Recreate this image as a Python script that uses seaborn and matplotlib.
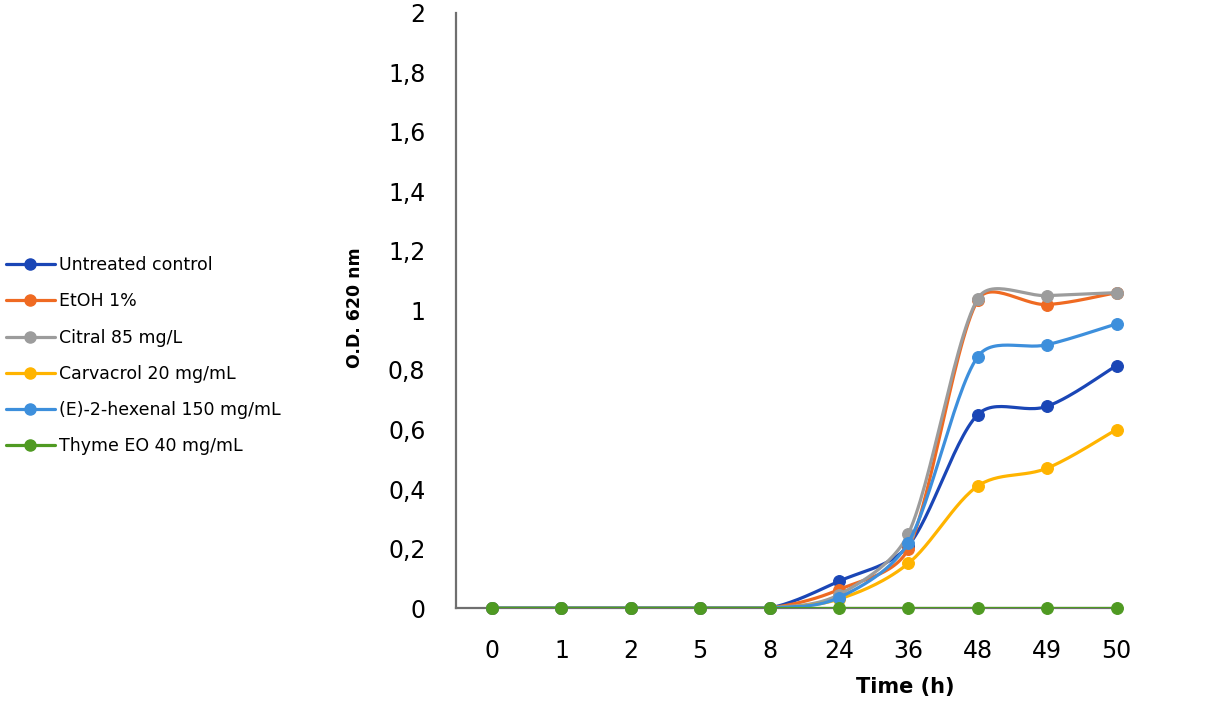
"""Growth curves (O.D. 620 nm) for the six treatments, Excel-style smoothed lines."""

import numpy as np
import pandas as pd
import matplotlib.pyplot as plt
import seaborn as sns
from matplotlib.lines import Line2D
from matplotlib.ticker import FixedLocator, FuncFormatter


times = ['0', '1', '2', '5', '8', '24', '36', '48', '49', '50']

untreated = [0, 0, 0, 0, 0, 0.09, 0.21, 0.65, 0.678, 0.815]
etoh = [0, 0, 0, 0, 0, 0.062, 0.20, 1.035, 1.02, 1.06]
citral = [0, 0, 0, 0, 0, 0.045, 0.25, 1.04, 1.05, 1.06]
carvacrol = [0, 0, 0, 0, 0, 0.03, 0.15, 0.41, 0.47, 0.60]
hexenal = [0, 0, 0, 0, 0, 0.035, 0.22, 0.845, 0.885, 0.955]
thyme = [0, 0, 0, 0, 0, 0, 0, 0, 0, 0]

labels = ['Untreated control', 'EtOH 1%', 'Citral 85 mg/L',
          'Carvacrol 20 mg/mL', '(E)-2-hexenal 150 mg/mL', 'Thyme EO 40 mg/mL']
colors = ['#1a46b6', '#ef6a22', '#9c9c9c', '#ffb400', '#3d8fdc', '#4f9a22']
series = [untreated, etoh, citral, carvacrol, hexenal, thyme]

# 屏幕像素比例（x 每类 69.4 px，y 每单位 297.5 px），平滑在像素空间里做
PX, PY = 69.4, 297.5


"""Excel 风格平滑曲线：Catmull-Rom 控制点 + 三次 Bezier，控制柄长度按弦长限制以减小过冲。"""
def smooth(xs, ys, n=30, lim=0.35):
    pts = np.column_stack([np.asarray(xs, float) * PX, np.asarray(ys, float) * PY])
    out = [pts[0]]
    t = np.linspace(0, 1, n)[1:, None]
    for i in range(len(pts) - 1):
        p0 = pts[max(i - 1, 0)]
        p1, p2 = pts[i], pts[i + 1]
        p3 = pts[min(i + 2, len(pts) - 1)]
        chord = np.hypot(*(p2 - p1))
        d1 = (p2 - p0) / 6
        d2 = (p3 - p1) / 6
        for d in (d1, d2):
            L = np.hypot(*d)
            if L > lim * chord and L > 0:
                d *= lim * chord / L
        c1 = p1 + d1
        c2 = p2 - d2
        seg = ((1 - t) ** 3) * p1 + 3 * ((1 - t) ** 2) * t * c1 + 3 * (1 - t) * t ** 2 * c2 + t ** 3 * p2
        out.extend(seg)
    out = np.array(out)
    # O.D. 不会小于 0，截掉平滑带来的下冲
    return out[:, 0] / PX, np.maximum(out[:, 1] / PY, 0)


sns.set_style('white')
plt.rcParams['font.family'] = ['DejaVu Sans']
plt.rcParams['text.color'] = 'black'
plt.rcParams['xtick.color'] = 'black'
plt.rcParams['ytick.color'] = 'black'
plt.rcParams['axes.labelcolor'] = 'black'

df = pd.DataFrame({'time': times * len(series),
                   'pos': list(range(len(times))) * len(series),
                   'od': np.concatenate(series),
                   'treatment': np.repeat(labels, len(times))})

fig = plt.figure(figsize=(12.05, 7.03), dpi=100)
ax = fig.add_axes([456 / 1205, 95 / 703, 664 / 1205, 595 / 703])

for k, (name, col) in enumerate(zip(labels, colors)):
    sub = df[df['treatment'] == name]
    sx, sy = smooth(sub['pos'].values, sub['od'].values)
    ax.plot(sx, sy, color=col, lw=2.3, zorder=3 + 2 * k, solid_capstyle='round')
    sns.scatterplot(data=sub, x='pos', y='od', color=col, s=72, edgecolor=col,
                    linewidth=0.8, ax=ax, zorder=4 + 2 * k, clip_on=False, legend=False)

ax.set_xlim(-0.52, 9.05)
ax.set_ylim(0, 2)
ax.xaxis.set_major_locator(FixedLocator(range(len(times))))
ax.set_xticklabels(times)
ax.yaxis.set_major_locator(FixedLocator(np.arange(0, 2.01, 0.2)))
ax.yaxis.set_major_formatter(FuncFormatter(lambda v, p: f'{v:.1f}'.rstrip('0').rstrip('.').replace('.', ',')))
ax.tick_params(axis='both', length=0, labelsize=17, pad=22)

for s in ['top', 'right']:
    ax.spines[s].set_visible(False)
for s in ['left', 'bottom']:
    ax.spines[s].set_color('#6f6f6f')
    ax.spines[s].set_linewidth(1.6)

ax.set_xlabel('Time (h)', fontsize=15, fontweight='bold')
ax.set_ylabel('O.D. 620 nm', fontsize=12.5, fontweight='bold')
ax.xaxis.set_label_coords(0.676, -0.116)
ax.yaxis.set_label_coords(-0.138, 0.505)

handles = [Line2D([0], [0], color=c, lw=2.3, marker='o', markersize=8) for c in colors]
fig.legend(handles, labels, loc='center left', bbox_to_anchor=(6 / 1205, 0.494),
           frameon=False, fontsize=12.5, handlelength=2.8, handletextpad=0.25,
           labelspacing=1.05, borderpad=0, borderaxespad=0)

fig.savefig('out.png', dpi=100)
